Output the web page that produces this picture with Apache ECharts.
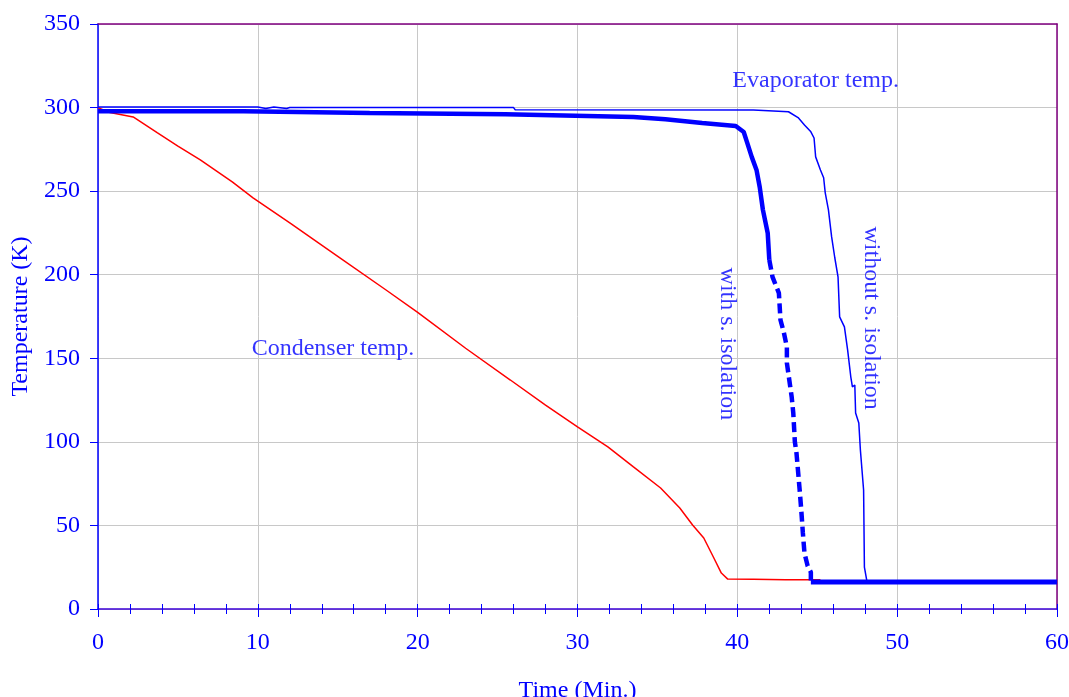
<!DOCTYPE html>
<html>
<head>
<meta charset="utf-8">
<script src="https://cdn.jsdelivr.net/npm/echarts@6/dist/echarts.min.js"></script>
<style>
  html, body { margin: 0; padding: 0; background: #fff; }
  #chart { width: 1069px; height: 697px; }
</style>
</head>
<body>
<div id="chart"></div>
<script>
// time (min) / temperature (K)
const condTime = [0, 0.75, 2.2, 3.7, 5, 6.4, 8.4, 9.7, 12, 15, 18, 20, 23, 25.8, 28, 30, 31.9, 33.5, 35.2, 36.4, 37.2, 37.9, 38.5, 39.0, 39.4, 41, 43, 44, 45.2]
const condTemp = [300, 297, 294.4, 285, 277, 268.7, 255.5, 246, 231, 211, 191, 177.5, 156, 137, 122, 109, 97, 85, 72.4, 60.4, 50.3, 42.5, 31.1, 21.5, 17.9, 17.8, 17.5, 17.5, 17.5]

// evaporator, without s. isolation (thin line)
const noIsoTime = [0, 10, 10.5, 11, 11.8, 12, 26, 26.1, 41, 41.1, 43.2, 43.8, 44.2, 44.6, 44.8, 44.9, 45.2, 45.4, 45.5, 45.7, 45.9, 46.1, 46.3, 46.4, 46.7, 46.9, 47.1, 47.2, 47.3, 47.35, 47.4, 47.6, 47.7, 47.9, 47.95, 48.1, 60]
const noIsoTemp = [300.3, 300.3, 299.5, 300.3, 299.5, 300, 300, 298.7, 298.5, 297.6, 297.5, 294, 289.6, 285.5, 281.8, 270.5, 262.7, 258, 249, 238.8, 222.6, 210, 198.7, 174.8, 168.8, 155, 138.8, 132.9, 134, 134, 117.3, 111.3, 95, 71.2, 25, 17, 16.2]

// evaporator, with s. isolation (thick line, broken on the steep part)
const isoTopTime = [0, 9.1, 9.1, 17, 17, 25.5, 25.5, 33.5, 35.5, 37.8, 39.9, 40.4, 40.6, 40.9, 41.2, 41.4, 41.6, 41.9, 42.0]
const isoTopTemp = [297.8, 297.8, 296.8, 296.8, 296, 296, 295, 294.3, 293, 290.8, 289, 285.4, 279.5, 270.5, 262.7, 252.5, 238.8, 225, 208.9]
const isoDropTime = [42.0, 42.2, 42.6, 42.7, 42.9, 43.1, 43.1, 43.4, 43.5, 43.6, 43.7, 43.9, 44.0, 44.1, 44.2, 44.4, 44.6, 44.6]
const isoDropTemp = [208.9, 198.7, 189, 172.9, 165.8, 156.8, 147.2, 126.9, 117.3, 99.9, 93.4, 71.2, 59.2, 45.5, 33.5, 25.7, 22, 16.2]
const isoEndTime = [44.6, 60]
const isoEndTemp = [16.2, 16.2]

// annotations: [time, temp, text, rotation]
const notes = [
  [44.9, 316, 'Evaporator temp.', 0],
  [14.7, 156, 'Condenser temp.', 0],
  [39.4, 158.6, 'with s. isolation', -90],
  [48.4, 174, 'without s. isolation', -90]
]

const xTicks = [0, 10, 20, 30, 40, 50, 60]
const yTicks = [0, 50, 100, 150, 200, 250, 300, 350]

const pair = (xs, ys) => xs.map((x, i) => [x, ys[i]])

const FONT = 'Liberation Serif'
const FS = 24
const BLUE = '#0000ff'
const PURPLE = '#800080'

const xRange = { type: 'value', min: xTicks[0], max: xTicks[xTicks.length - 1], interval: 10 }
const yRange = { type: 'value', min: yTicks[0], max: yTicks[yTicks.length - 1], interval: 50 }

const chart = echarts.init(document.getElementById('chart'))

const option = {
  animation: false,
  backgroundColor: '#fff',
  grid: {
    left: 98, right: 12, top: 24, bottom: 88,
    containLabel: false,
    outerBoundsMode: 'none'
  },
  xAxis: [
    {
      // purple frame on top
      ...xRange,
      position: 'top',
      axisLine: { show: true, onZero: false, lineStyle: { color: PURPLE, width: 1.5 } },
      axisTick: { show: false },
      axisLabel: { show: false },
      splitLine: { show: false }
    },
    {
      ...xRange,
      position: 'bottom',
      name: 'Time (Min.)',
      nameLocation: 'middle',
      nameGap: 70,
      nameTextStyle: { color: BLUE, fontFamily: FONT, fontSize: FS },
      axisLine: { onZero: false, lineStyle: { color: '#3c00d8', width: 1.5 } },
      axisTick: { show: true, length: 8, lineStyle: { color: BLUE } },
      minorTick: { show: true, splitNumber: 5, length: 5, lineStyle: { color: BLUE } },
      axisLabel: { color: BLUE, fontFamily: FONT, fontSize: FS, margin: 22 },
      splitLine: { show: true, lineStyle: { color: '#c8c8c8' } }
    },
    {
      // inner half of the crossing ticks
      ...xRange,
      position: 'bottom',
      axisLine: { show: false, onZero: false },
      axisTick: { show: true, inside: true, length: 5, lineStyle: { color: BLUE } },
      minorTick: { show: true, splitNumber: 5, length: 5, lineStyle: { color: BLUE } },
      axisLabel: { show: false },
      splitLine: { show: false }
    }
  ],
  yAxis: [
    {
      // purple frame on the right
      ...yRange,
      position: 'right',
      axisLine: { show: true, onZero: false, lineStyle: { color: PURPLE, width: 1.5 } },
      axisTick: { show: false },
      axisLabel: { show: false },
      splitLine: { show: false }
    },
    {
      ...yRange,
      position: 'left',
      name: 'Temperature (K)',
      nameLocation: 'middle',
      nameGap: 63,
      nameTextStyle: { color: BLUE, fontFamily: FONT, fontSize: FS },
      axisLine: { show: true, onZero: false, lineStyle: { color: BLUE, width: 1.5 } },
      axisTick: { show: true, length: 8, lineStyle: { color: BLUE } },
      axisLabel: { color: BLUE, fontFamily: FONT, fontSize: FS, margin: 18 },
      splitLine: { show: true, lineStyle: { color: '#c8c8c8' } }
    }
  ],
  series: [
    {
      name: 'Condenser temp.',
      type: 'line',
      xAxisIndex: 1,
      yAxisIndex: 1,
      data: pair(condTime, condTemp),
      showSymbol: false,
      lineStyle: { color: '#ff0000', width: 1.5 },
      z: 3
    },
    {
      name: 'without s. isolation',
      type: 'line',
      xAxisIndex: 1,
      yAxisIndex: 1,
      data: pair(noIsoTime, noIsoTemp),
      showSymbol: false,
      lineStyle: { color: BLUE, width: 1.5 },
      z: 4
    },
    {
      name: 'with s. isolation',
      type: 'line',
      xAxisIndex: 1,
      yAxisIndex: 1,
      data: pair(isoTopTime, isoTopTemp),
      showSymbol: false,
      lineStyle: { color: BLUE, width: 4.5 },
      z: 5
    },
    {
      name: 'with s. isolation drop',
      type: 'line',
      xAxisIndex: 1,
      yAxisIndex: 1,
      data: pair(isoDropTime, isoDropTemp),
      showSymbol: false,
      lineStyle: { color: BLUE, width: 4.5, type: [10, 5], cap: 'butt' },
      z: 5
    },
    {
      name: 'with s. isolation end',
      type: 'line',
      xAxisIndex: 1,
      yAxisIndex: 1,
      data: pair(isoEndTime, isoEndTemp),
      showSymbol: false,
      lineStyle: { color: BLUE, width: 5 },
      z: 5
    },
    {
      name: 'notes',
      type: 'scatter',
      xAxisIndex: 1,
      yAxisIndex: 1,
      symbolSize: 0,
      data: notes.map(n => ({
        value: [n[0], n[1]],
        label: {
          show: true,
          position: 'inside',
          formatter: n[2],
          rotate: n[3],
          color: BLUE,
          fontFamily: FONT,
          fontSize: FS
        }
      })),
      silent: true,
      z: 6
    }
  ]
}

chart.setOption(option)
</script>
</body>
</html>
